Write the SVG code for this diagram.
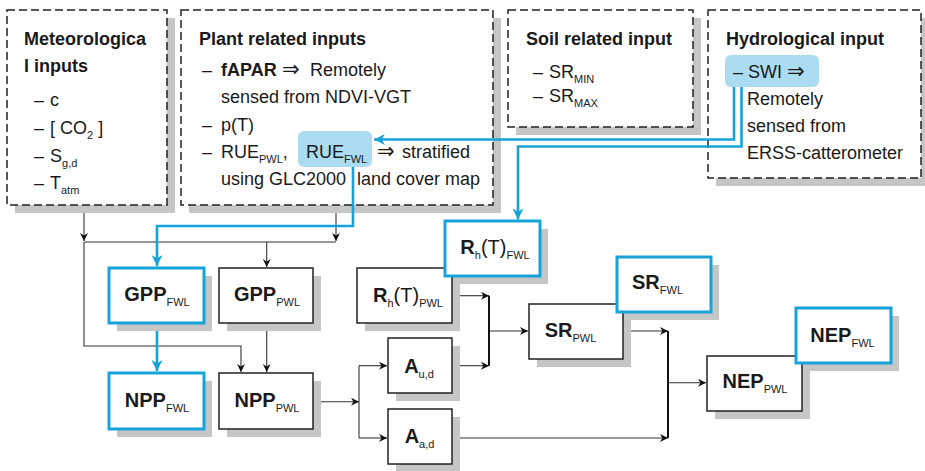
<svg xmlns="http://www.w3.org/2000/svg" width="925" height="471" viewBox="0 0 925 471">
<style>
text{font-family:"Liberation Sans","DejaVu Sans",Arial,sans-serif;font-size:18px;fill:#1a1a1a}
.b{font-weight:bold}
.lbl{font-size:20px;font-weight:bold;text-anchor:middle}
.reg{font-weight:normal}
.sub{font-size:11px;font-weight:normal}
.arr{font-family:"DejaVu Sans",sans-serif;font-size:21px;font-weight:normal}
.sh{fill:#c6c6c6}
.dash{fill:#fff;stroke:#222;stroke-width:1.5;stroke-dasharray:8 4}
.box{fill:#fff;stroke:#222;stroke-width:1.5}
.fwl{fill:#fff;stroke:#16a3d9;stroke-width:3}
.hl{fill:#abdcf1}
.ln{fill:none;stroke:#333;stroke-width:1.1}
.jn{fill:none;stroke:#111;stroke-width:2}
.bl{fill:none;stroke:#16a3d9;stroke-width:2.6}
</style>
<defs>
<marker id="ah" markerUnits="userSpaceOnUse" viewBox="0 0 10 10" markerWidth="9" markerHeight="8" refX="10" refY="5" orient="auto">
<path d="M0,0 L10,5 L0,10 L3,5 z" fill="#111"/>
</marker>
<marker id="ahb" markerUnits="userSpaceOnUse" viewBox="0 0 10 10" markerWidth="12" markerHeight="11" refX="10" refY="5" orient="auto">
<path d="M0,0 L10,5 L0,10 L3,5 z" fill="#16a3d9"/>
</marker>
</defs>

<g id="meteorological">
<rect class="sh" x="15" y="18" width="160" height="195"/>
<rect class="dash" x="7" y="10" width="160" height="195"/>
<text class="b" x="24" y="45">Meteorologica</text>
<text class="b" x="24" y="72">l inputs</text>
<text x="34" y="106">–<tspan x="50">c</tspan></text>
<text x="34" y="134">–<tspan x="50">[ CO</tspan><tspan class="sub" dy="5">2</tspan><tspan dy="-5"> ]</tspan></text>
<text x="34" y="161.5">–<tspan x="50">S</tspan><tspan class="sub" dy="5">g,d</tspan></text>
<text x="34" y="188.5">–<tspan x="50">T</tspan><tspan class="sub" dy="5">atm</tspan></text>
</g>

<g id="plant">
<rect class="sh" x="189" y="18" width="312" height="195"/>
<rect class="dash" x="181" y="10" width="312" height="195"/>
<rect class="hl" x="298" y="131" width="74" height="36" rx="6"/>
<text class="b" x="199" y="45">Plant related inputs</text>
<text x="202" y="76">–<tspan x="221" class="b">fAPAR</tspan><tspan x="282" class="arr">⇒</tspan><tspan x="310">Remotely</tspan></text>
<text x="221" y="103">sensed from NDVI-VGT</text>
<text x="202" y="131">–<tspan x="221">p(T)</tspan></text>
<text x="202" y="158">–<tspan x="221">RUE</tspan><tspan class="sub" dy="5">PWL</tspan><tspan dy="-5">,</tspan></text>
<text x="306" y="158">RUE<tspan class="sub" dy="5">FWL</tspan></text>
<text x="377" y="158"><tspan class="arr">⇒</tspan><tspan x="402">stratified</tspan></text>
<text x="221" y="185">using GLC2000</text>
<text x="357" y="185">land cover map</text>
</g>

<g id="soil">
<rect class="sh" x="516" y="18" width="185" height="117"/>
<rect class="dash" x="508" y="10" width="185" height="117"/>
<text class="b" x="526" y="45">Soil related input</text>
<text x="533" y="77.5">–<tspan x="549">SR</tspan><tspan class="sub" dy="5">MIN</tspan></text>
<text x="533" y="102">–<tspan x="549">SR</tspan><tspan class="sub" dy="5">MAX</tspan></text>
</g>

<g id="hydrological">
<rect class="sh" x="716" y="18" width="213" height="168"/>
<rect class="dash" x="708" y="10" width="213" height="168"/>
<rect class="hl" x="725" y="55" width="94" height="32" rx="6"/>
<text class="b" x="726" y="45">Hydrological input</text>
<text x="733" y="78">–<tspan x="748">SWI</tspan><tspan x="787" class="arr">⇒</tspan></text>
<text x="747" y="105">Remotely</text>
<text x="747" y="131.5">sensed from</text>
<text x="747" y="159">ERSS-catterometer</text>
</g>

<g id="connectors">
<path class="ln" d="M84,213 V241" marker-end="url(#ah)"/>
<path class="ln" d="M336,213 V241" marker-end="url(#ah)"/>
<path class="ln" d="M84,242 H336"/>
<path class="ln" d="M84,242 V346 H241 V372" marker-end="url(#ah)"/>
<path class="ln" d="M266.7,242 V267" marker-end="url(#ah)"/>
<path class="ln" d="M266.7,331 V372" marker-end="url(#ah)"/>
<path class="ln" d="M321,401.7 H359" marker-end="url(#ah)"/>
<path class="ln" d="M359,365.7 V438"/>
<path class="ln" d="M359,365.7 H387" marker-end="url(#ah)"/>
<path class="ln" d="M359,438 H387" marker-end="url(#ah)"/>
<path class="ln" d="M460,295.7 H489" marker-end="url(#ah)"/>
<path class="ln" d="M460,365.7 H489" marker-end="url(#ah)"/>
<path class="jn" d="M489,295.7 V365.7"/>
<path class="ln" d="M490,331 H528" marker-end="url(#ah)"/>
<path class="ln" d="M631,331 H668" marker-end="url(#ah)"/>
<path class="ln" d="M460,438 H668" marker-end="url(#ah)"/>
<path class="jn" d="M668,331 V438"/>
<path class="ln" d="M669,382.7 H706" marker-end="url(#ah)"/>
<path class="bl" d="M353,167 V226 H157 V266" marker-end="url(#ahb)"/>
<path class="bl" d="M157,324.5 V371" marker-end="url(#ahb)"/>
<path class="bl" d="M734,87 V139.5 H374" marker-end="url(#ahb)"/>
<path class="bl" d="M741.5,87 V146.5 H518 V219.5" marker-end="url(#ahb)"/>
</g>

<g id="shadows">
<rect class="sh" x="117" y="276" width="95" height="55"/>
<rect class="sh" x="227" y="276" width="94" height="55"/>
<rect class="sh" x="117" y="381" width="95" height="56"/>
<rect class="sh" x="227" y="381" width="94" height="56"/>
<rect class="sh" x="365" y="276" width="95" height="55"/>
<rect class="sh" x="453" y="229" width="95" height="55"/>
<rect class="sh" x="396" y="346" width="64" height="55"/>
<rect class="sh" x="396" y="417" width="64" height="55"/>
<rect class="sh" x="537" y="312" width="94" height="55"/>
<rect class="sh" x="625" y="265" width="94" height="55"/>
<rect class="sh" x="715" y="364" width="95" height="55"/>
<rect class="sh" x="804" y="316" width="95" height="55"/>
</g>

<g id="gpp_pwl">
<rect class="box" x="219" y="268" width="94" height="55"/>
<text class="lbl" x="267" y="301">GPP<tspan class="sub" dy="5">PWL</tspan></text>
</g>
<g id="npp_pwl">
<rect class="box" x="219" y="373" width="94" height="56"/>
<text class="lbl" x="267" y="406.7">NPP<tspan class="sub" dy="5">PWL</tspan></text>
</g>
<g id="rh_pwl">
<rect class="box" x="357" y="268" width="95" height="55"/>
<text class="lbl" x="408" y="301.7">R<tspan class="sub" dy="5">h</tspan><tspan class="reg" dy="-5">(T)</tspan><tspan class="sub" dy="5">PWL</tspan></text>
</g>
<g id="aud">
<rect class="box" x="388" y="338" width="64" height="55"/>
<text class="lbl" x="419" y="372.7">A<tspan class="sub" dy="5">u,d</tspan></text>
</g>
<g id="aad">
<rect class="box" x="388" y="409" width="64" height="55"/>
<text class="lbl" x="419.5" y="443.3">A<tspan class="sub" dy="5">a,d</tspan></text>
</g>
<g id="sr_pwl">
<rect class="box" x="529" y="304" width="94" height="55"/>
<text class="lbl" x="570.5" y="337.3">SR<tspan class="sub" dy="5">PWL</tspan></text>
</g>
<g id="nep_pwl">
<rect class="box" x="707" y="356" width="95" height="55"/>
<text class="lbl" x="755" y="388.3">NEP<tspan class="sub" dy="5">PWL</tspan></text>
</g>

<g id="gpp_fwl">
<rect class="fwl" x="109" y="268" width="95" height="55"/>
<text class="lbl" x="157" y="301">GPP<tspan class="sub" dy="5">FWL</tspan></text>
</g>
<g id="npp_fwl">
<rect class="fwl" x="109" y="373" width="95" height="56"/>
<text class="lbl" x="157" y="406.7">NPP<tspan class="sub" dy="5">FWL</tspan></text>
</g>
<g id="rh_fwl">
<rect class="fwl" x="445" y="221" width="95" height="55"/>
<text class="lbl" x="495" y="254">R<tspan class="sub" dy="5">h</tspan><tspan class="reg" dy="-5">(T)</tspan><tspan class="sub" dy="5">FWL</tspan></text>
</g>
<g id="sr_fwl">
<rect class="fwl" x="617" y="257" width="94" height="55"/>
<text class="lbl" x="657.5" y="289.3">SR<tspan class="sub" dy="5">FWL</tspan></text>
</g>
<g id="nep_fwl">
<rect class="fwl" x="796" y="308" width="95" height="55"/>
<text class="lbl" x="842.5" y="341.7">NEP<tspan class="sub" dy="5">FWL</tspan></text>
</g>
</svg>
